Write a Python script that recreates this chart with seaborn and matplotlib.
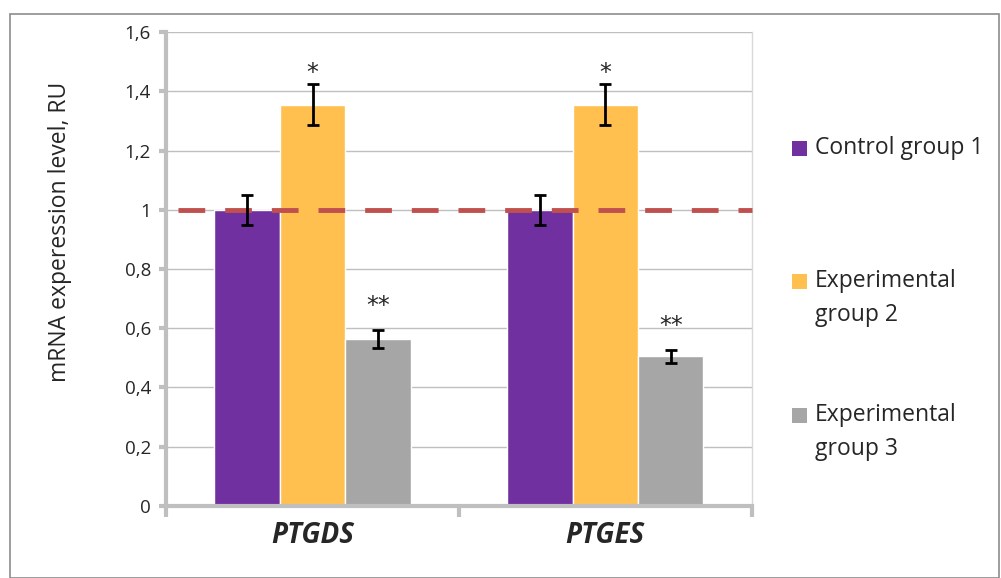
import matplotlib
matplotlib.use("Agg")
import numpy as np
import pandas as pd
import seaborn as sns
from matplotlib import pyplot as plt
from matplotlib.patches import Rectangle

# --- data ---
genes = ["PTGDS", "PTGES"]
groups = ["Control group 1", "Experimental group 2", "Experimental group 3"]
legend_labels = ["Control group 1", "Experimental\ngroup 2", "Experimental\ngroup 3"]
control = [1.0, 1.0]
exp2 = [1.355, 1.355]
exp3 = [0.565, 0.505]
err_control = [0.05, 0.05]
err_exp2 = [0.068, 0.068]
err_exp3 = [0.03, 0.022]
marks_exp2 = ["*", "*"]
marks_exp3 = ["**", "**"]
yticks = [0, 0.2, 0.4, 0.6, 0.8, 1.0, 1.2, 1.4, 1.6]
ytick_labels = ["0", "0,2", "0,4", "0,6", "0,8", "1", "1,2", "1,4", "1,6"]
ref_level = 1.0

colors = ["#7030A0", "#FFC04F", "#A6A6A6"]

df = pd.DataFrame({
    "gene": genes * 3,
    "group": [g for g in groups for _ in genes],
    "value": control + exp2 + exp3,
    "err": err_control + err_exp2 + err_exp3,
})

sns.set_style("white")
plt.rcParams["font.family"] = ["Open Sans", "DejaVu Sans"]

W, H = 1001, 578
fig = plt.figure(figsize=(W / 100, H / 100), dpi=100)
fig.patches.append(Rectangle((0.01, 0.0), 0.988, 0.976, transform=fig.transFigure,
                             fill=False, edgecolor="#8C8C8C", linewidth=1.2))
ax = fig.add_axes([0.166, 0.1246, 0.585, 0.82])

sns.barplot(data=df, x="gene", y="value", hue="group", palette=colors,
            width=0.67, saturation=1, errorbar=None, ax=ax, legend=False)

# error bars + significance marks placed on the drawn bars
marks = [""] * len(genes) + marks_exp2 + marks_exp3
bars = [p for p in ax.patches if p.get_height() > 0][:len(df)]
for bar, (_, row), mark in zip(bars, df.iterrows(), marks):
    cx = bar.get_x() + bar.get_width() / 2
    ax.errorbar(cx, row["value"], yerr=row["err"], fmt="none", ecolor="black",
                elinewidth=2, capsize=4, capthick=2, zorder=5)
    if mark:
        pad = 0.04 if mark == "*" else 0.08
        ax.text(cx, row["value"] + row["err"] + pad, mark, ha="center",
                va="center", fontsize=17, family="DejaVu Sans")

ax.plot([-0.46, 1.5], [ref_level, ref_level], color="#C0504D", linewidth=3.5,
        dashes=(5.5, 4.1), zorder=4, clip_on=False)

ax.set_ylim(0, 1.6)
ax.set_xlim(-0.5, 1.5)
ax.set_yticks(yticks)
ax.set_yticklabels(ytick_labels, fontsize=13.5)
ax.yaxis.grid(True, color="#BFBFBF", linewidth=1)
ax.set_axisbelow(True)
ax.set_xticks([0, 1])
ax.set_xticklabels(genes, fontsize=20, fontweight="bold", fontstyle="italic")
ax.tick_params(axis="x", length=0, pad=11)
ax.tick_params(axis="y", length=5, width=3, color="#BFBFBF", direction="out", pad=6, left=True)
ax.set_xticks([-0.5, 0.5, 1.5], minor=True)
ax.tick_params(axis="x", which="minor", length=8, width=3, color="#BFBFBF", direction="out", bottom=True)
ax.set_xlabel("")
ax.set_ylabel("mRNA experession level, RU", fontsize=16.5)
ax.yaxis.set_label_coords(-0.16, 0.578)

for side in ["left", "bottom"]:
    ax.spines[side].set_color("#BFBFBF")
    ax.spines[side].set_linewidth(3)
ax.spines["top"].set_visible(False)
ax.spines["right"].set_color("#D9D9D9")
ax.spines["right"].set_linewidth(1)

# legend laid out like the spreadsheet legend: swatch aligned to the first line
legend_rows = [149, 282, 416]
for color, label, ry in zip(colors, legend_labels, legend_rows):
    fig.patches.append(Rectangle((792 / W, 1 - (ry + 7) / H), 15 / W, 15 / H,
                                 transform=fig.transFigure, facecolor=color,
                                 edgecolor="none"))
    fig.text(815 / W, 1 - (ry - 13) / H, label, fontsize=16.5, va="top",
             ha="left", linespacing=1.55)

fig.savefig("out.png", dpi=100)
